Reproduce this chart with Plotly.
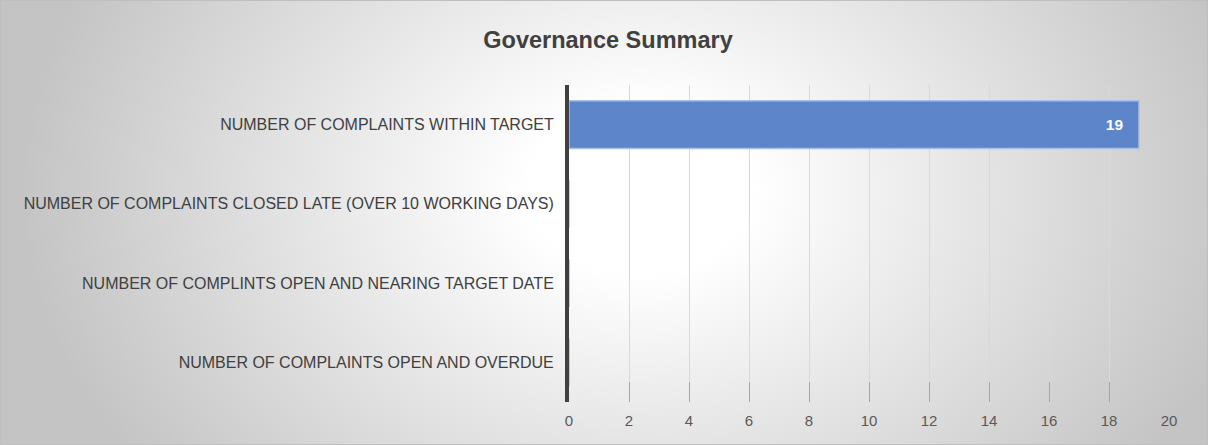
import base64
import plotly.graph_objects as go

categories = [
    "NUMBER OF COMPLAINTS WITHIN TARGET",
    "NUMBER OF COMPLAINTS CLOSED LATE (OVER 10 WORKING DAYS)",
    "NUMBER OF COMPLINTS OPEN AND NEARING TARGET DATE",
    "NUMBER OF COMPLAINTS OPEN AND OVERDUE",
]
values = [19, 0, 0, 0]
x_ticks = [0, 2, 4, 6, 8, 10, 12, 14, 16, 18, 20]

W, H = 1208, 445
ML, MR, MT, MB = 569, 39, 85, 43
PW, PH = W - ML - MR, H - MT - MB

svg = f'''<svg xmlns="http://www.w3.org/2000/svg" width="{W}" height="{H}" viewBox="0 0 {W} {H}" preserveAspectRatio="none">
<defs><radialGradient id="g" gradientUnits="userSpaceOnUse" cx="640" cy="190" r="620" gradientTransform="translate(640 190) scale(1 0.75) translate(-640 -190)">
<stop offset="0" stop-color="#ffffff"/><stop offset="0.18" stop-color="#ffffff"/><stop offset="1" stop-color="#c4c4c4"/></radialGradient></defs>
<rect x="0" y="0" width="{W}" height="{H}" fill="url(#g)"/>
<rect x="0.5" y="0.5" width="{W-1}" height="{H-1}" fill="none" stroke="#bfbfbf" stroke-width="1"/>
</svg>'''
src = "data:image/svg+xml;base64," + base64.b64encode(svg.encode()).decode()

fig = go.Figure(
    go.Bar(
        x=values,
        y=categories,
        orientation="h",
        marker=dict(color="#5d85ca", line=dict(color="#a9c0e6", width=1.5)),
        text=[str(v) if v else "" for v in values],
        texttemplate="<b>%{text}</b>&nbsp;&nbsp;&nbsp;",
        textposition="inside",
        insidetextanchor="end",
        textfont=dict(color="white", size=15.5, family="Liberation Sans"),
        width=0.6,
        hoverinfo="x+y",
    )
)

fig.update_layout(
    width=W,
    height=H,
    margin=dict(l=ML, r=MR, t=MT, b=MB),
    paper_bgcolor="rgba(0,0,0,0)",
    plot_bgcolor="rgba(0,0,0,0)",
    title=dict(
        text="<b>Governance Summary</b>",
        x=608 / W,
        xanchor="center",
        y=1 - 40 / H,
        yanchor="middle",
        font=dict(size=23.5, color="#404040", family="Liberation Sans"),
    ),
    font=dict(family="Liberation Sans", color="#404040"),
    showlegend=False,
    images=[
        dict(
            source=src,
            xref="paper",
            yref="paper",
            x=-ML / PW,
            y=1 + MT / PH,
            sizex=W / PW,
            sizey=H / PH,
            xanchor="left",
            yanchor="top",
            sizing="stretch",
            layer="below",
        )
    ],
    xaxis=dict(
        range=[0, 20],
        tickvals=x_ticks,
        showgrid=True,
        gridcolor="#d9d9d9",
        gridwidth=1,
        zeroline=False,
        showline=False,
        ticks="inside",
        ticklen=20,
        tickcolor="#a6a6a6",
        tickwidth=1,
        ticklabelstandoff=8,
        tickfont=dict(size=15, color="#595959"),
        fixedrange=True,
    ),
    yaxis=dict(
        categoryorder="array",
        categoryarray=categories,
        autorange="reversed",
        showline=True,
        linecolor="#404040",
        linewidth=4,
        showgrid=False,
        ticks="",
        ticklen=0,
        tickfont=dict(size=16, color="#404040"),
        ticklabelstandoff=8,
        fixedrange=True,
    ),
)

fig.write_html(
    "out.html",
    config={"displayModeBar": False},
    post_script="document.body.style.margin='0px';document.body.style.padding='0px';",
)
